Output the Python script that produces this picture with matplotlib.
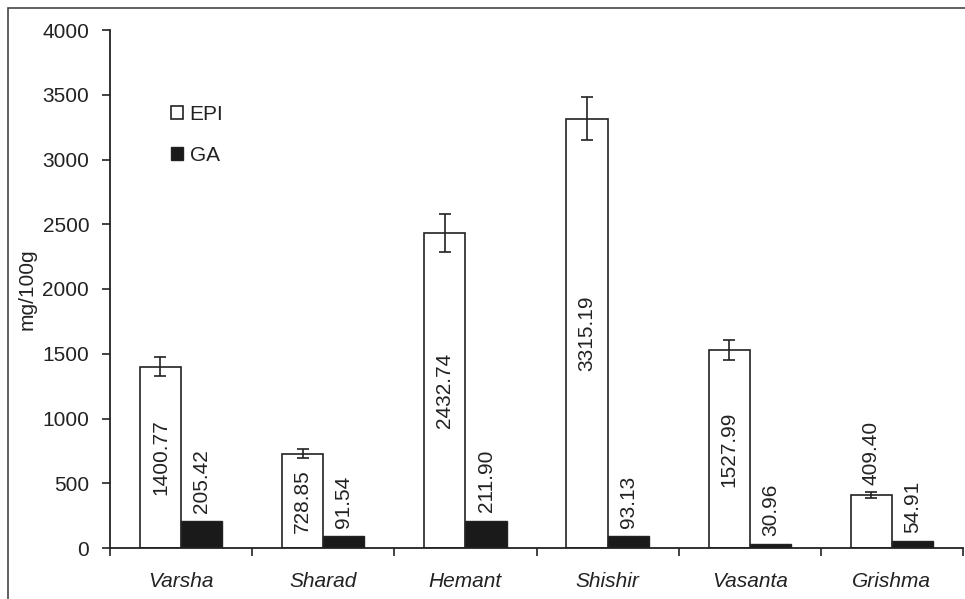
import numpy as np
import matplotlib
matplotlib.use("Agg")
import matplotlib.pyplot as plt
from matplotlib.patches import Rectangle

plt.rcParams['font.family'] = ['Liberation Sans', 'DejaVu Sans']

# data
seasons = ["Varsha", "Sharad", "Hemant", "Shishir", "Vasanta", "Grishma"]
epi = [1400.77, 728.85, 2432.74, 3315.19, 1527.99, 409.40]
epi_err = [73, 35, 150, 166, 77, 20]
ga = [205.42, 91.54, 211.90, 93.13, 30.96, 54.91]
epi_labels = ["1400.77", "728.85", "2432.74", "3315.19", "1527.99", "409.40"]
ga_labels = ["205.42", "91.54", "211.90", "93.13", "30.96", "54.91"]

ink = "#222222"
fs = 15

fig = plt.figure(figsize=(9.65, 5.99), dpi=100)
ax = fig.add_axes([110 / 965, 51 / 599, 853 / 965, 518 / 599])

# outer frame of the original figure
fig.add_artist(Rectangle((8 / 965, -0.1), 1.2, (591 / 599) + 0.1,
                         transform=fig.transFigure, fill=False,
                         edgecolor="#444444", linewidth=1.2))

x = np.arange(len(seasons))
w = 0.29

ax.bar(x - w / 2, epi, w, color="white", edgecolor=ink, linewidth=1.2,
       yerr=epi_err, error_kw=dict(ecolor=ink, elinewidth=1.2, capsize=4,
                                   capthick=1.2), label="EPI", zorder=2)
ax.bar(x + w / 2, ga, w, color="#1a1a1a", edgecolor=ink, linewidth=1.0,
       label="GA", zorder=2)

# value labels
for i in range(len(seasons)):
    if epi[i] > 600:
        ax.text(x[i] - w / 2, epi[i] / 2, epi_labels[i], rotation=90,
                ha="center", va="center", fontsize=fs, color=ink)
    else:
        ax.annotate(epi_labels[i], (x[i] - w / 2, epi[i]), xytext=(0, 7),
                    textcoords="offset points", rotation=90,
                    ha="center", va="bottom", fontsize=fs, color=ink)
    ax.annotate(ga_labels[i], (x[i] + w / 2, ga[i]), xytext=(0, 6),
                textcoords="offset points", rotation=90,
                ha="center", va="bottom", fontsize=fs, color=ink)

ax.set_xlim(-0.5, len(seasons) - 0.5)
ax.set_ylim(0, 4000)
ax.set_yticks(np.arange(0, 4001, 500))
ax.set_xticks(x)
ax.set_xticklabels(seasons, fontstyle="italic", fontsize=fs, color=ink)
ax.set_xticks(np.arange(-0.5, len(seasons)), minor=True)
ax.tick_params(axis="x", which="major", length=0, pad=17)
ax.tick_params(axis="x", which="minor", length=6, width=1.2, color=ink,
               direction="out")
ax.tick_params(axis="y", length=6, width=1.2, color=ink, labelsize=fs,
               labelcolor=ink, pad=9)

for s in ["top", "right"]:
    ax.spines[s].set_visible(False)
for s in ["left", "bottom"]:
    ax.spines[s].set_linewidth(1.3)
    ax.spines[s].set_color(ink)

ax.set_ylabel("mg/100g", fontsize=fs, color=ink, labelpad=4)

ax.legend(loc="upper left", bbox_to_anchor=(0.0715, 0.855), frameon=False,
          fontsize=fs, borderpad=0, borderaxespad=0, handlelength=0.6,
          handleheight=0.6, handletextpad=0.3, labelspacing=1.05,
          labelcolor=ink)

fig.savefig("out.png", dpi=100)
